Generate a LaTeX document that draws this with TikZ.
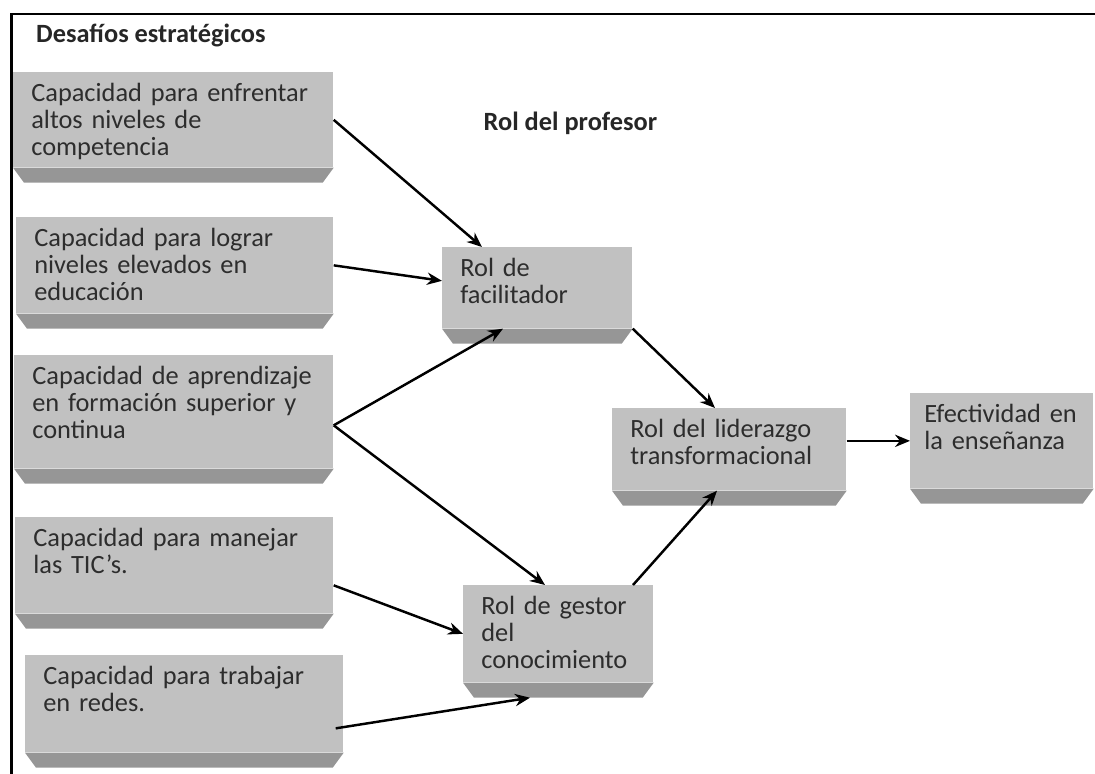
\documentclass[tikz,border=0pt]{standalone}
\usepackage{fontspec}
\setmainfont{Carlito}
\usetikzlibrary{arrows.meta}
\definecolor{cara}{RGB}{193,193,193}
\definecolor{base}{RGB}{150,150,150}
\definecolor{tinta}{RGB}{45,45,45}
\tikzset{
  caja/.style={fill=cara, text=tinta, anchor=north west, align=left,
    inner xsep=0.36cm, inner ysep=0.2cm, text height=0.38cm,
    font=\fontsize{15}{15.4}\selectfont},
  flecha/.style={line width=1.4pt, -{Stealth[length=8.5pt, width=7pt]}}
}
% base oscura de cada caja
\newcommand{\bisel}[1]{\fill[base] (#1.south west) -- (#1.south east)
  -- ([shift={(-0.22,-0.3)}]#1.south east) -- ([shift={(0.22,-0.3)}]#1.south west) -- cycle;}
\begin{document}
\begin{tikzpicture}
    \useasboundingbox (0,0) rectangle (21.9,-15.48);
    % Marco
    \draw[line width=1.7pt] (21.9,-0.28) -- (0.23,-0.28) -- (0.23,-15.6);

    % Títulos
    \node[anchor=west, font=\bfseries\fontsize{15}{16}\selectfont, text=black!85] (tit) at (0.6,-0.7) {Desafíos estratégicos};
    \node[anchor=west, font=\bfseries\fontsize{15}{16}\selectfont, text=black!85] (rol) at (9.55,-2.46) {Rol del profesor};

    % Desafíos
    \node[caja, text width=5.68cm, text depth=1.12cm] (enfrentar) at (0.26,-1.44) {Capacidad para enfrentar\\altos niveles de\\competencia};
    \node[caja, text width=5.62cm, text depth=1.14cm] (lograr) at (0.32,-4.34) {Capacidad para lograr\\niveles elevados en\\educación};
    \node[caja, text width=5.66cm, text depth=1.48cm] (aprender) at (0.28,-7.10) {Capacidad de aprendizaje\\en formación superior y\\continua};
    \node[caja, text width=5.64cm, text depth=1.14cm] (tic) at (0.30,-10.34) {Capacidad para manejar\\las TIC’s.};
    \node[caja, text width=5.64cm, text depth=1.16cm] (redes) at (0.50,-13.10) {Capacidad para trabajar\\en redes.};

    % Roles
    \node[caja, text width=3.08cm, text depth=0.84cm] (facil) at (8.84,-4.94) {Rol de\\facilitador};
    \node[caja, text width=3.08cm, text depth=1.16cm] (gestor) at (9.26,-11.70) {Rol de gestor\\del\\conocimiento};
    \node[caja, text width=3.96cm, text depth=0.86cm] (lider) at (12.24,-8.16) {Rol del liderazgo\\transformacional};
    \node[caja, text width=3.1cm, inner xsep=0.28cm, text depth=1.12cm] (efect) at (18.2,-7.86) {Efectividad en\\la enseñanza};

    \foreach \c in {enfrentar,lograr,aprender,tic,redes,facil,gestor,lider,efect}{
        \bisel{\c}
    }

    % Flechas
    \draw[flecha] (enfrentar.east) -- ([xshift=0.8cm]facil.north west);
    \draw[flecha] (lograr.east) -- ([yshift=0.14cm]facil.west);
    \draw[flecha] ([yshift=-0.27cm]aprender.east) -- ([xshift=1.22cm]facil.south west);
    \draw[flecha] ([yshift=-0.27cm]aprender.east) -- ([xshift=1.64cm]gestor.north west);
    \draw[flecha] (facil.south east) -- ([xshift=2.06cm]lider.north west);
    \draw[flecha] ([xshift=3.4cm]gestor.north west) -- ([xshift=2.1cm]lider.south west);
    \draw[flecha] ([yshift=-0.4cm]tic.east) -- (gestor.west);
    \draw[flecha] ([shift={(-0.16,-0.49)}]redes.east) -- ([shift={(1.34,-0.3)}]gestor.south west);
    \draw[flecha] (lider.east |- efect.west) -- (efect.west);
\end{tikzpicture}
\end{document}
